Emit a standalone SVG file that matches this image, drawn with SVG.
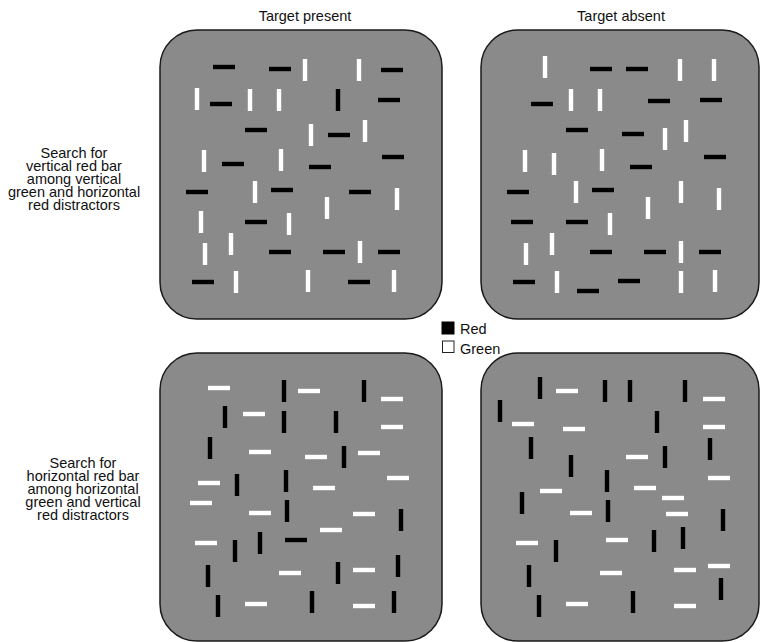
<svg xmlns="http://www.w3.org/2000/svg" xmlns:xlink="http://www.w3.org/1999/xlink" width="765" height="642" viewBox="0 0 765 642">
<style>
.panel{fill:#8a8a8a;stroke:#1a1a1a;stroke-width:1.5}
.lbl{font-family:"Liberation Sans",Arial,sans-serif;font-size:14.5px;fill:#111;text-anchor:middle}
.ttl{font-family:"Liberation Sans",Arial,sans-serif;font-size:14.5px;fill:#111;text-anchor:middle}
.leg{font-family:"Liberation Sans",Arial,sans-serif;font-size:14.5px;fill:#111}
</style>
<defs>
<rect id="hb" x="-11" y="-2.2" width="22" height="4.4" fill="#000"/>
<rect id="vb" x="-2.2" y="-11" width="4.4" height="22" fill="#000"/>
<rect id="hw" x="-11" y="-2.2" width="22" height="4.4" fill="#fff"/>
<rect id="vw" x="-2.2" y="-11" width="4.4" height="22" fill="#fff"/>
</defs>
<rect width="765" height="642" fill="#fff"/>
<g id="titles">
<text class="ttl" x="305" y="20.5">Target present</text>
<text class="ttl" x="621" y="20.5">Target absent</text>
</g>
<g id="label-top">
<text class="lbl" x="74" y="158">Search for</text>
<text class="lbl" x="74" y="171">vertical red bar</text>
<text class="lbl" x="74" y="184">among vertical</text>
<text class="lbl" x="74" y="197">green and horizontal</text>
<text class="lbl" x="74" y="210">red distractors</text>
</g>
<g id="label-bottom">
<text class="lbl" x="83" y="468">Search for</text>
<text class="lbl" x="83" y="481">horizontal red bar</text>
<text class="lbl" x="83" y="494">among horizontal</text>
<text class="lbl" x="83" y="507">green and vertical</text>
<text class="lbl" x="83" y="520">red distractors</text>
</g>
<g id="legend">
<rect x="442" y="322" width="12" height="12" fill="#000" stroke="#000"/>
<text class="leg" x="460" y="333.5">Red</text>
<rect x="442.5" y="341" width="11.5" height="11.5" fill="#fff" stroke="#222"/>
<text class="leg" x="460" y="353.5">Green</text>
</g>
<g id="panel-top-present">
<rect class="panel" x="160" y="30" width="282" height="289" rx="37"/>
<use xlink:href="#hb" x="224" y="67"/><use xlink:href="#hb" x="280" y="69"/><use xlink:href="#hb" x="392" y="70"/>
<use xlink:href="#hb" x="221" y="104"/><use xlink:href="#hb" x="389" y="100"/><use xlink:href="#hb" x="256" y="130"/>
<use xlink:href="#hb" x="339" y="135"/><use xlink:href="#hb" x="233" y="164"/><use xlink:href="#hb" x="320" y="167"/>
<use xlink:href="#hb" x="393" y="157"/><use xlink:href="#hb" x="197" y="192"/><use xlink:href="#hb" x="282" y="190"/>
<use xlink:href="#hb" x="360" y="192"/><use xlink:href="#hb" x="256" y="222"/><use xlink:href="#hb" x="280" y="252"/>
<use xlink:href="#hb" x="334" y="252"/><use xlink:href="#hb" x="389" y="252"/><use xlink:href="#hb" x="203" y="282"/>
<use xlink:href="#hb" x="359" y="282"/>
<use xlink:href="#vb" x="338" y="100"/>
<use xlink:href="#vw" x="305" y="70"/><use xlink:href="#vw" x="359" y="70"/><use xlink:href="#vw" x="197" y="99"/>
<use xlink:href="#vw" x="250" y="100"/><use xlink:href="#vw" x="279" y="100"/><use xlink:href="#vw" x="311" y="135"/>
<use xlink:href="#vw" x="365" y="131"/><use xlink:href="#vw" x="204" y="161"/><use xlink:href="#vw" x="281" y="160"/>
<use xlink:href="#vw" x="255" y="192"/><use xlink:href="#vw" x="327" y="208"/><use xlink:href="#vw" x="397" y="199"/>
<use xlink:href="#vw" x="201" y="222"/><use xlink:href="#vw" x="289" y="224"/><use xlink:href="#vw" x="231" y="244"/>
<use xlink:href="#vw" x="205" y="254"/><use xlink:href="#vw" x="360" y="252"/><use xlink:href="#vw" x="236" y="282"/>
<use xlink:href="#vw" x="308" y="281"/><use xlink:href="#vw" x="394" y="281"/>
</g>
<g id="panel-top-absent">
<rect class="panel" x="481" y="30" width="278" height="289" rx="37"/>
<use xlink:href="#hb" x="601" y="69"/><use xlink:href="#hb" x="637" y="69"/><use xlink:href="#hb" x="542" y="104"/>
<use xlink:href="#hb" x="659" y="101"/><use xlink:href="#hb" x="711" y="100"/><use xlink:href="#hb" x="577" y="130"/>
<use xlink:href="#hb" x="633" y="134"/><use xlink:href="#hb" x="641" y="167"/><use xlink:href="#hb" x="715" y="157"/>
<use xlink:href="#hb" x="518" y="192"/><use xlink:href="#hb" x="603" y="190"/><use xlink:href="#hb" x="522" y="222"/>
<use xlink:href="#hb" x="577" y="222"/><use xlink:href="#hb" x="601" y="252"/><use xlink:href="#hb" x="655" y="252"/>
<use xlink:href="#hb" x="710" y="252"/><use xlink:href="#hb" x="524" y="282"/><use xlink:href="#hb" x="588" y="291"/>
<use xlink:href="#hb" x="629" y="281"/>
<use xlink:href="#vw" x="545" y="67"/><use xlink:href="#vw" x="680" y="70"/><use xlink:href="#vw" x="714" y="70"/>
<use xlink:href="#vw" x="571" y="100"/><use xlink:href="#vw" x="600" y="100"/><use xlink:href="#vw" x="665" y="139"/>
<use xlink:href="#vw" x="686" y="131"/><use xlink:href="#vw" x="525" y="161"/><use xlink:href="#vw" x="554" y="164"/>
<use xlink:href="#vw" x="602" y="160"/><use xlink:href="#vw" x="576" y="192"/><use xlink:href="#vw" x="681" y="192"/>
<use xlink:href="#vw" x="719" y="199"/><use xlink:href="#vw" x="648" y="208"/><use xlink:href="#vw" x="610" y="224"/>
<use xlink:href="#vw" x="552" y="244"/><use xlink:href="#vw" x="526" y="254"/><use xlink:href="#vw" x="681" y="252"/>
<use xlink:href="#vw" x="557" y="282"/><use xlink:href="#vw" x="681" y="282"/><use xlink:href="#vw" x="715" y="281"/>
</g>
<g id="panel-bottom-present">
<rect class="panel" x="160" y="353" width="282" height="288" rx="37"/>
<use xlink:href="#hw" x="219" y="388"/><use xlink:href="#hw" x="309" y="391"/><use xlink:href="#hw" x="392" y="399"/>
<use xlink:href="#hw" x="254" y="414"/><use xlink:href="#hw" x="392" y="427"/><use xlink:href="#hw" x="260" y="452"/>
<use xlink:href="#hw" x="316" y="457"/><use xlink:href="#hw" x="369" y="453"/><use xlink:href="#hw" x="209" y="483"/>
<use xlink:href="#hw" x="324" y="488"/><use xlink:href="#hw" x="398" y="478"/><use xlink:href="#hw" x="201" y="503"/>
<use xlink:href="#hw" x="260" y="513"/><use xlink:href="#hw" x="364" y="514"/><use xlink:href="#hw" x="331" y="530"/>
<use xlink:href="#hw" x="206" y="543"/><use xlink:href="#hw" x="290" y="573"/><use xlink:href="#hw" x="364" y="570"/>
<use xlink:href="#hw" x="256" y="604"/><use xlink:href="#hw" x="364" y="606"/>
<use xlink:href="#vb" x="284" y="391"/><use xlink:href="#vb" x="364" y="391"/><use xlink:href="#vb" x="225" y="417"/>
<use xlink:href="#vb" x="284" y="422"/><use xlink:href="#vb" x="336" y="422"/><use xlink:href="#vb" x="210" y="448"/>
<use xlink:href="#vb" x="344" y="457"/><use xlink:href="#vb" x="237" y="485"/><use xlink:href="#vb" x="286" y="481"/>
<use xlink:href="#vb" x="287" y="511"/><use xlink:href="#vb" x="401" y="520"/><use xlink:href="#vb" x="260" y="543"/>
<use xlink:href="#vb" x="235" y="551"/><use xlink:href="#vb" x="208" y="576"/><use xlink:href="#vb" x="338" y="573"/>
<use xlink:href="#vb" x="398" y="566"/><use xlink:href="#vb" x="218" y="606"/><use xlink:href="#vb" x="312" y="602"/>
<use xlink:href="#vb" x="394" y="602"/>
<use xlink:href="#hb" x="296" y="540"/>
</g>
<g id="panel-bottom-absent">
<rect class="panel" x="481" y="353" width="278" height="288" rx="37"/>
<use xlink:href="#vb" x="540" y="388"/><use xlink:href="#vb" x="605" y="391"/><use xlink:href="#vb" x="630" y="391"/>
<use xlink:href="#vb" x="685" y="391"/><use xlink:href="#vb" x="500" y="411"/><use xlink:href="#vb" x="657" y="422"/>
<use xlink:href="#vb" x="531" y="448"/><use xlink:href="#vb" x="571" y="466"/><use xlink:href="#vb" x="665" y="457"/>
<use xlink:href="#vb" x="710" y="449"/><use xlink:href="#vb" x="607" y="481"/><use xlink:href="#vb" x="522" y="503"/>
<use xlink:href="#vb" x="608" y="511"/><use xlink:href="#vb" x="723" y="520"/><use xlink:href="#vb" x="654" y="541"/>
<use xlink:href="#vb" x="683" y="538"/><use xlink:href="#vb" x="556" y="551"/><use xlink:href="#vb" x="529" y="576"/>
<use xlink:href="#vb" x="721" y="589"/><use xlink:href="#vb" x="539" y="606"/><use xlink:href="#vb" x="633" y="602"/>
<use xlink:href="#hw" x="567" y="391"/><use xlink:href="#hw" x="714" y="399"/><use xlink:href="#hw" x="523" y="424"/>
<use xlink:href="#hw" x="574" y="429"/><use xlink:href="#hw" x="714" y="427"/><use xlink:href="#hw" x="637" y="457"/>
<use xlink:href="#hw" x="719" y="478"/><use xlink:href="#hw" x="551" y="491"/><use xlink:href="#hw" x="645" y="488"/>
<use xlink:href="#hw" x="673" y="498"/><use xlink:href="#hw" x="581" y="513"/><use xlink:href="#hw" x="677" y="514"/>
<use xlink:href="#hw" x="527" y="543"/><use xlink:href="#hw" x="617" y="540"/><use xlink:href="#hw" x="611" y="573"/>
<use xlink:href="#hw" x="685" y="570"/><use xlink:href="#hw" x="719" y="566"/><use xlink:href="#hw" x="577" y="604"/>
<use xlink:href="#hw" x="685" y="606"/>
</g>
</svg>
